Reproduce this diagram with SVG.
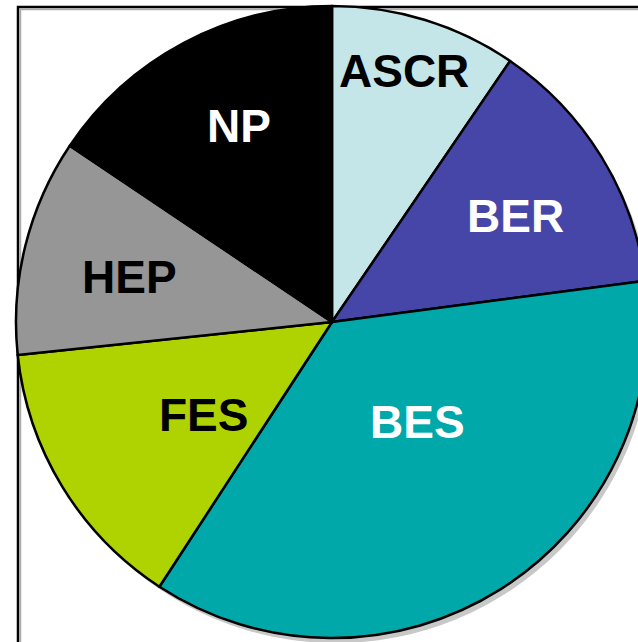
<svg xmlns="http://www.w3.org/2000/svg" width="638" height="642" viewBox="0 0 638 642">
<style>
.s{stroke:#000;stroke-width:2.5;stroke-linejoin:round}
.t{font-family:"Liberation Sans",Arial,sans-serif;font-weight:bold;font-size:46px}
</style>
<rect width="638" height="642" fill="#fff"/>
<g id="frame">
<path d="M20.5 642V9.5H638" fill="none" stroke="#aaa" stroke-width="1.5"/>
<path d="M18 642V7H638" fill="none" stroke="#000" stroke-width="2.5"/>
</g>
<g id="shadow"><circle cx="336" cy="327" r="316" fill="#c8c8c8"/></g>
<g id="slices">
<path id="ASCR" class="s" fill="#c4e6e8" d="M332 322L332 6A316 316 0 0 1 510.1 60.95Z"/>
<path id="BER" class="s" fill="#4646a8" d="M332 322L510.1 60.95A316 316 0 0 1 645.3 280.75Z"/>
<path id="BES" class="s" fill="#00a8a9" d="M332 322L645.3 280.75A316 316 0 0 1 159.4 586.7Z"/>
<path id="FES" class="s" fill="#aed300" d="M332 322L159.4 586.7A316 316 0 0 1 17.7 355Z"/>
<path id="HEP" class="s" fill="#969696" d="M332 322L17.7 355A316 316 0 0 1 69.8 145.7Z"/>
<path id="NP" class="s" fill="#000" d="M332 322L69.8 145.7A316 316 0 0 1 332 6Z"/>
</g>
<g id="labels">
<text class="t" x="339" y="87" fill="#000">ASCR</text>
<text class="t" x="467" y="232" fill="#fff">BER</text>
<text class="t" x="207" y="142" fill="#fff">NP</text>
<text class="t" x="82" y="293" fill="#000">HEP</text>
<text class="t" x="159" y="431" fill="#000">FES</text>
<text class="t" x="370" y="438" fill="#fff">BES</text>
</g>
</svg>
